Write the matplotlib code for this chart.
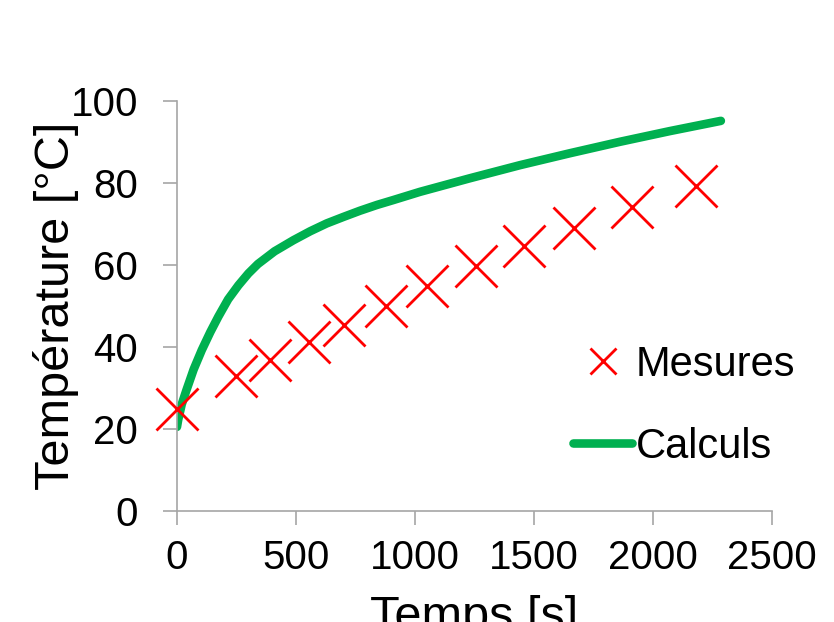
import numpy as np
import matplotlib.pyplot as plt

plt.rcParams['font.family'] = ['Liberation Sans', 'DejaVu Sans']

# Mesures (croix rouges)
t_mes = [0, 250, 390, 555, 702, 877, 1052, 1255, 1459, 1668, 1910, 2179]
T_mes = [24.8, 32.9, 36.8, 41.3, 45.3, 50.0, 54.8, 59.6, 64.6, 69.1, 74.2, 79.2]

# Calculs (courbe verte)
t_calc = [0, 5, 20, 40, 70, 104, 140, 174, 215, 258, 300, 340, 410, 489, 560, 629, 700,
          769, 840, 909, 1021, 1230, 1441, 1650, 1861, 2070, 2285]
T_calc = [20.5, 22.2, 26.0, 29.5, 34.5, 39.2, 43.6, 47.4, 51.6, 55.0, 57.9, 60.2, 63.3, 66.0,
          68.2, 70.1, 71.7, 73.2, 74.6, 75.8, 77.8, 81.1, 84.3, 87.2, 90.0, 92.6, 95.1]

grey = '#a6a6a6'

fig = plt.figure(figsize=(8.34, 6.22), dpi=100)
ax = fig.add_axes([0.2122, 0.1785, 0.7135, 0.6595])

ax.plot(t_calc, T_calc, color='#00b050', lw=6.2, solid_capstyle='round',
        solid_joinstyle='round', label='Calculs', zorder=2)
ax.plot(t_mes, T_mes, 'x', color='#ff0000', ms=30, mew=2.0, label='Mesures',
        zorder=3, clip_on=False)

ax.set_xlim(0, 2500)
ax.set_ylim(0, 100)
ax.set_xticks(np.arange(0, 2501, 500))
ax.set_yticks(np.arange(0, 101, 20))

for s in ['top', 'right']:
    ax.spines[s].set_visible(False)
for s in ['left', 'bottom']:
    ax.spines[s].set_color(grey)
    ax.spines[s].set_linewidth(1.2)
ax.tick_params(axis='both', direction='out', length=10, width=1.2, color=grey,
               labelsize=29)
ax.tick_params(axis='y', pad=18)
ax.tick_params(axis='x', pad=10)

ax.set_xlabel('Temps [s]', fontsize=35, labelpad=13)
ax.set_ylabel('Température [°C]', fontsize=35, labelpad=-6)

h, l = ax.get_legend_handles_labels()
ax.legend(h[::-1], l[::-1], loc='upper left', bbox_to_anchor=(0.603, 0.496),
          frameon=False, fontsize=30, markerscale=0.64, handlelength=1.42,
          handletextpad=0.07, labelspacing=1.0)

fig.savefig('out.png', dpi=100)
